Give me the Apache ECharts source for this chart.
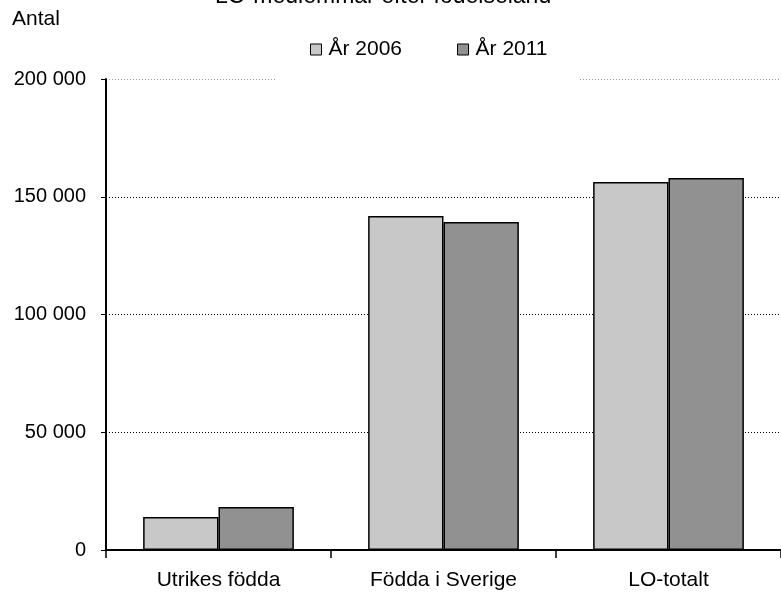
<!DOCTYPE html>
<html><head><meta charset="utf-8">
<script src="https://cdn.jsdelivr.net/npm/echarts@6/dist/echarts.min.js"></script>
<style>html,body{margin:0;padding:0;background:#fff}#c{width:781px;height:594px}</style>
</head><body><div id="c"></div>
<script>
var categories = ['Utrikes födda', 'Födda i Sverige', 'LO-totalt'];
var seriesNames = ['År 2006', 'År 2011'];
var values2006 = [14000, 141800, 156300];
var values2011 = [18300, 139300, 158000];
var yTicks = [0, 50000, 100000, 150000, 200000];

var font = 'Liberation Sans, Arial, sans-serif';
var chart = echarts.init(document.getElementById('c'), null, {renderer: 'canvas'});
function fmt(v){ return String(v).replace(/\B(?=(\d{3})+(?!\d))/g, ' '); }
chart.setOption({
  animation: false,
  backgroundColor: '#fff',
  title: {
    text: 'LO-medlemmar efter födelseland',
    left: 210, top: -20,
    textStyle: {fontFamily: font, fontSize: 23, fontWeight: 'normal', color: '#000'}
  },
  graphic: [{type: 'text', left: 12, top: 9, style: {text: 'Antal', fontFamily: font, fontSize: 21, fill: '#000'}}],
  legend: {
    data: seriesNames,
    left: 277, top: 31,
    padding: [8, 31, 22, 33],
    backgroundColor: '#fff',
    itemWidth: 11, itemHeight: 11, itemGap: 55,
    icon: 'rect',
    itemStyle: {borderColor: '#000', borderWidth: 1},
    textStyle: {fontFamily: font, fontSize: 21, color: '#000', padding: [0,0,0,2]},
    z: 10
  },
  grid: {left: 106, top: 79, bottom: 44, right: -6, containLabel: false},
  xAxis: {
    type: 'category', data: categories,
    axisLine: {lineStyle: {color: '#000', width: 2}},
    axisTick: {show: true, length: 8, lineStyle: {color: '#000', width: 1.5}, alignWithLabel: false},
    axisLabel: {fontFamily: font, fontSize: 21, color: '#000', margin: 20}
  },
  yAxis: {
    type: 'value', min: yTicks[0], max: yTicks[yTicks.length-1], interval: yTicks[1]-yTicks[0],
    axisLine: {show: true, lineStyle: {color: '#000', width: 2}},
    axisTick: {show: true, inside: false, length: 5, lineStyle: {color: '#000', width: 1}},
    axisLabel: {fontFamily: font, fontSize: 20, color: '#000', margin: 20, formatter: fmt},
    splitLine: {show: true, lineStyle: {color: ['#000','#000','#000','#000','#999'], type: [1, 2], width: 1}}
  },
  series: [
    {name: seriesNames[0], type: 'bar', data: values2006, barGap: '0%', barCategoryGap: '33%',
     itemStyle: {color: '#c8c8c8', borderColor: '#000', borderWidth: 1.5}},
    {name: seriesNames[1], type: 'bar', data: values2011, barGap: '0%', barCategoryGap: '33%',
     itemStyle: {color: '#919191', borderColor: '#000', borderWidth: 1.5}}
  ]
});
</script></body></html>
